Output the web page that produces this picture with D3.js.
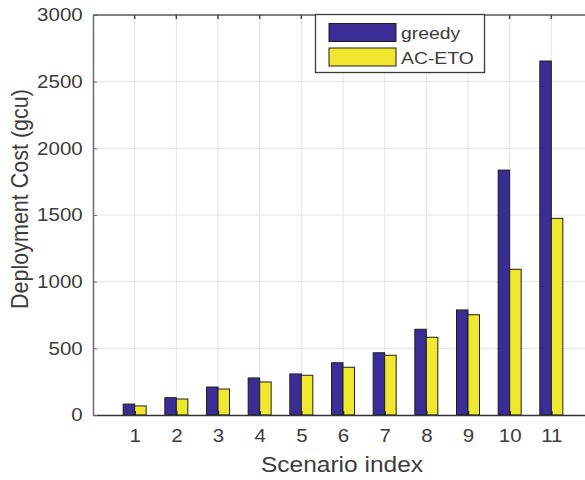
<!DOCTYPE html>
<html>
<head>
<meta charset="utf-8">
<script src="https://cdn.jsdelivr.net/npm/d3@7"></script>
<style>
  body { margin: 0; background: #fff; }
  svg { display: block; font-family: "Liberation Sans", Arial, sans-serif; }
  .grid line { stroke: #e4e4e4; stroke-width: 1; }
  .tick text { fill: #3c3c3c; }
</style>
</head>
<body>
<svg id="chart" width="585" height="480"></svg>
<script>
// data
let scenarios = [1, 2, 3, 4, 5, 6, 7, 8, 9, 10, 11];
let greedy = [82, 130, 210, 278, 308, 392, 467, 643, 788, 1837, 2655];
let acEto = [68, 120, 195, 248, 298, 358, 448, 583, 752, 1093, 1475];
let seriesNames = ["greedy", "AC-ETO"];
let seriesColors = ["#3a2e96", "#efe82e"];
let yTicks = [0, 500, 1000, 1500, 2000, 2500, 3000];

let svg = d3.select("#chart"),
    margin = {left: 93, top: 15, bottom: 65},
    plot_w = 500,
    plot_h = 480 - margin.top - margin.bottom;

// text in the figure is a little wider than plain Arial
const stretch = 1.14;

let xScale = d3.scaleLinear()
    .domain([0, 12])
    .range([margin.left, margin.left + plot_w]);

let yScale = d3.scaleLinear()
    .domain([0, 3000])
    .range([margin.top + plot_h, margin.top]);

let barW = 11.5;

// grid
svg.append("g")
    .attr("class", "grid")
    .selectAll("line.gx")
    .data(scenarios)
    .enter()
    .append("line")
    .attr("x1", d => xScale(d)).attr("x2", d => xScale(d))
    .attr("y1", yScale(0)).attr("y2", yScale(3000));

svg.append("g")
    .attr("class", "grid")
    .selectAll("line.gy")
    .data(yTicks.slice(1))
    .enter()
    .append("line")
    .attr("x1", xScale(0)).attr("x2", xScale(12))
    .attr("y1", d => yScale(d)).attr("y2", d => yScale(d));

// bars
let series = [greedy, acEto];
series.forEach((vals, s) => {
    svg.append("g")
        .selectAll("rect")
        .data(vals)
        .enter()
        .append("rect")
        .attr("x", (d, i) => xScale(scenarios[i]) + (s === 0 ? -barW : 0))
        .attr("y", d => yScale(d))
        .attr("width", barW)
        .attr("height", d => yScale(0) - yScale(d))
        .attr("fill", seriesColors[s])
        .attr("stroke", "#1e1e1e")
        .attr("stroke-width", 1);
});

// axes
let xAxis = svg.append("g")
    .attr("transform", "translate(0," + yScale(0) + ")")
    .call(d3.axisBottom(xScale).tickValues(scenarios).tickFormat(d3.format("d"))
        .tickSize(-4).tickPadding(14).tickSizeOuter(0));
xAxis.select(".domain").attr("stroke", "#333").attr("stroke-width", 1.5);
xAxis.selectAll(".tick line").attr("stroke", "#222").attr("stroke-width", 1.5);

let yAxis = svg.append("g")
    .attr("transform", "translate(" + xScale(0) + ",0)")
    .call(d3.axisLeft(yScale).tickValues(yTicks).tickFormat(d3.format("d"))
        .tickSize(-4).tickPadding(9).tickSizeOuter(0));
yAxis.select(".domain").attr("stroke", "#6a6a6a").attr("stroke-width", 1.5);
yAxis.selectAll(".tick line").attr("stroke", "#6a6a6a");

// top box line with ticks
svg.append("line")
    .attr("x1", xScale(0)).attr("x2", xScale(12))
    .attr("y1", yScale(3000)).attr("y2", yScale(3000))
    .attr("stroke", "#5a5a5a").attr("stroke-width", 1.5);
svg.append("g")
    .selectAll("line")
    .data(scenarios)
    .enter()
    .append("line")
    .attr("x1", d => xScale(d)).attr("x2", d => xScale(d))
    .attr("y1", yScale(3000)).attr("y2", yScale(3000) + 4)
    .attr("stroke", "#444").attr("stroke-width", 1.5);

svg.selectAll(".tick text")
    .attr("font-size", 18)
    .attr("font-family", "Liberation Sans, Arial, sans-serif")
    .attr("transform", "scale(" + stretch + ",1)");
xAxis.selectAll(".tick text").attr("dy", "0.71em");

// axis titles
svg.append("text")
    .attr("transform", "translate(342," + 472 + ") scale(" + stretch + ",1)")
    .attr("text-anchor", "middle")
    .attr("font-size", 21.5)
    .attr("fill", "#3c3c3c")
    .text("Scenario index");

svg.append("text")
    .attr("transform", "translate(28,199) scale(" + stretch + ",1) rotate(-90)")
    .attr("text-anchor", "middle")
    .attr("font-size", 21.5)
    .attr("fill", "#3c3c3c")
    .text("Deployment Cost (gcu)");

// legend
let legend = svg.append("g");
legend.append("rect")
    .attr("x", 315.5).attr("y", 14.5)
    .attr("width", 169).attr("height", 58)
    .attr("fill", "#fff")
    .attr("stroke", "#3a3a3a").attr("stroke-width", 1.3);

seriesNames.forEach((name, i) => {
    legend.append("rect")
        .attr("x", 329).attr("y", 23.5 + i * 24.5)
        .attr("width", 67).attr("height", 18)
        .attr("fill", seriesColors[i])
        .attr("stroke", "#1e1e1e").attr("stroke-width", 1);
    legend.append("text")
        .attr("transform", "translate(401," + (39 + i * 24.5) + ") scale(" + stretch + ",1)")
        .attr("font-size", 17)
        .attr("fill", "#3c3c3c")
        .text(name);
});
</script>
</body>
</html>
